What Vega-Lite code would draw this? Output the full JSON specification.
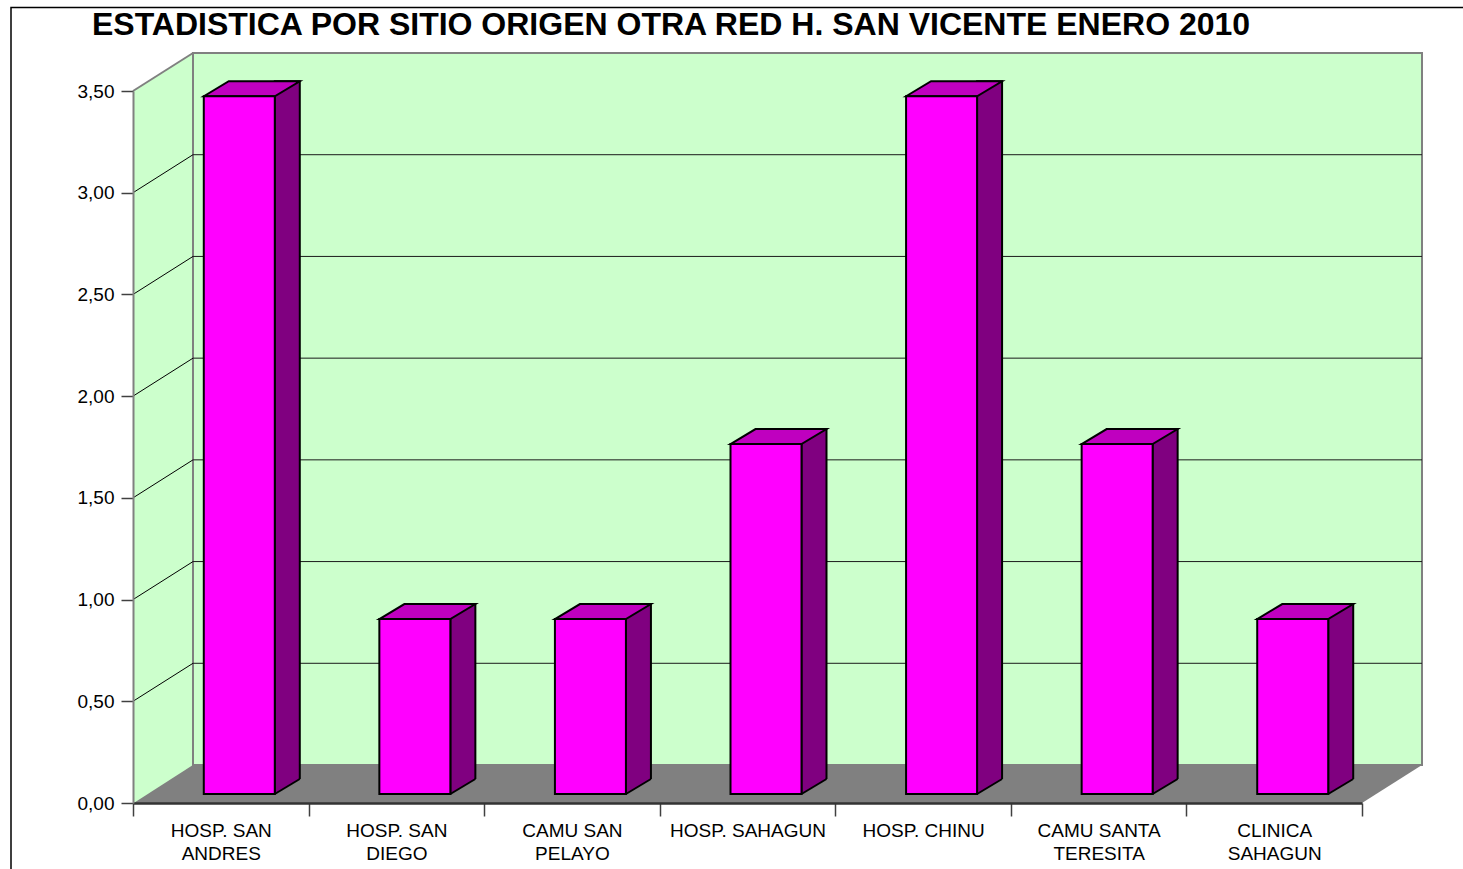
{
  "$schema": "https://vega.github.io/schema/vega-lite/v6.json",
  "width": 1229,
  "height": 712,
  "autosize": {"type": "none"},
  "padding": {"left": 133, "top": 91, "right": 101, "bottom": 66},
  "background": "white",
  "config": {"view": {"stroke": null}, "font": "Liberation Sans"},
  "title": {
    "text": "ESTADISTICA POR SITIO ORIGEN OTRA RED H. SAN VICENTE ENERO 2010",
    "frame": "group",
    "anchor": "start",
    "dx": -41,
    "offset": 0,
    "dy": 60,
    "baseline": "alphabetic",
    "font": "Liberation Sans",
    "fontSize": 32,
    "fontWeight": "bold",
    "color": "#000000"
  },
  "datasets": {
    "sitios": [
      {"sitio": "HOSP. SAN ANDRES", "valor": 3.43},
      {"sitio": "HOSP. SAN DIEGO", "valor": 0.86},
      {"sitio": "CAMU SAN PELAYO", "valor": 0.86},
      {"sitio": "HOSP. SAHAGUN", "valor": 1.72},
      {"sitio": "HOSP. CHINU", "valor": 3.43},
      {"sitio": "CAMU SANTA TERESITA", "valor": 1.72},
      {"sitio": "CLINICA SAHAGUN", "valor": 0.86}
    ],
    "lineas": [{"v": 0.5}, {"v": 1.0}, {"v": 1.5}, {"v": 2.0}, {"v": 2.5}, {"v": 3.0}],
    "one": [{"k": 1}]
  },
  "resolve": {"scale": {"x": "independent"}, "axis": {"x": "independent", "y": "independent"}},
  "layer": [
    {
      "data": {"name": "one"},
      "resolve": {"axis": {"x": "independent", "y": "independent"}},
      "layer": [
        {
          "mark": {"type": "rect", "fill": "#CCFFCC", "x2Offset": 60, "y2Offset": -38},
          "encoding": {
            "x": {"datum": 0, "type": "quantitative", "scale": {"domain": [0, 1], "nice": false, "zero": false}, "axis": null},
            "y": {"datum": 0, "type": "quantitative", "scale": {"domain": [0, 3.5], "nice": false, "zero": true}, "axis": null},
            "x2": {"datum": 1}, "y2": {"datum": 3.5}
          }
        },
        {
          "mark": {"type": "rect", "fill": "#808080", "x2Offset": 60, "y2Offset": -38},
          "encoding": {
            "x": {"datum": 0, "type": "quantitative", "axis": null},
            "y": {"datum": 0, "type": "quantitative", "axis": null},
            "x2": {"datum": 1}, "y2": {"datum": 0}
          }
        },
        {
          "mark": {"type": "point", "shape": "M0,0.5L0,-39L61.5,-39Z", "size": 4, "filled": true, "fill": "#CCFFCC", "strokeWidth": 0, "opacity": 1},
          "encoding": {
            "x": {"datum": 0, "type": "quantitative", "axis": null},
            "y": {"datum": 0, "type": "quantitative", "axis": null}
          }
        },
        {
          "mark": {"type": "point", "shape": "M0,0L60,-38L60,-41L-3,-41L-3,0Z", "size": 4, "filled": true, "fill": "#FFFFFF", "strokeWidth": 0, "opacity": 1},
          "encoding": {
            "x": {"datum": 0, "type": "quantitative", "axis": null},
            "y": {"datum": 3.5, "type": "quantitative", "axis": null}
          }
        },
        {
          "mark": {"type": "point", "shape": "M0,0L60,-38L63,-38L63,3L0,3Z", "size": 4, "filled": true, "fill": "#FFFFFF", "strokeWidth": 0, "opacity": 1},
          "encoding": {
            "x": {"datum": 1, "type": "quantitative", "axis": null},
            "y": {"datum": 0, "type": "quantitative", "axis": null}
          }
        },
        {
          "mark": {"type": "rect", "fill": null, "stroke": "#808080", "strokeWidth": 2, "xOffset": 60, "x2Offset": 60, "yOffset": -38, "y2Offset": -38},
          "encoding": {
            "x": {"datum": 0, "type": "quantitative", "axis": null},
            "y": {"datum": 0, "type": "quantitative", "axis": null},
            "x2": {"datum": 1}, "y2": {"datum": 3.5}
          }
        },
        {
          "data": {"name": "lineas"},
          "mark": {"type": "rule", "stroke": "#1a1a1a", "strokeWidth": 1, "xOffset": 60, "x2Offset": 60, "yOffset": -38},
          "encoding": {
            "x": {"datum": 0, "type": "quantitative", "axis": null},
            "x2": {"datum": 1},
            "y": {"field": "v", "type": "quantitative", "axis": null}
          }
        },
        {
          "data": {"name": "lineas"},
          "mark": {"type": "point", "shape": "M0,0L60,-38", "size": 4, "filled": false, "stroke": "#000000", "strokeWidth": 1, "opacity": 1},
          "encoding": {
            "x": {"datum": 0, "type": "quantitative", "axis": null},
            "y": {"field": "v", "type": "quantitative", "axis": null}
          }
        },
        {
          "mark": {"type": "point", "shape": "M0,0L60,-38", "size": 4, "filled": false, "stroke": "#808080", "strokeWidth": 2, "opacity": 1},
          "encoding": {
            "x": {"datum": 0, "type": "quantitative", "axis": null},
            "y": {"datum": 3.5, "type": "quantitative", "axis": null}
          }
        },
        {
          "mark": {"type": "rect", "fill": null, "stroke": "#000000", "strokeWidth": 1.5, "xOffset": -122, "x2Offset": 200, "yOffset": -83.5, "y2Offset": 200},
          "encoding": {
            "x": {"datum": 0, "type": "quantitative", "axis": null},
            "y": {"datum": 3.5, "type": "quantitative", "axis": null},
            "x2": {"datum": 1}, "y2": {"datum": 0}
          }
        }
      ]
    },
    {
      "data": {"name": "sitios"},
      "resolve": {"axis": {"x": "independent", "y": "independent"}},
      "encoding": {
        "x": {"field": "sitio", "type": "nominal", "sort": null, "scale": {"type": "band", "paddingInner": 0, "paddingOuter": 0}, "axis": null},
        "y": {"field": "valor", "type": "quantitative", "scale": {"domain": [0, 3.5], "nice": false, "zero": true}, "axis": null}
      },
      "layer": [
        {
          "mark": {"type": "bar", "width": 25, "xOffset": 66.5, "yOffset": -24, "y2Offset": -9, "fill": "#800080", "stroke": "#000000", "strokeWidth": 2},
          "encoding": {"y2": {"datum": 0}}
        },
        {
          "mark": {"type": "point", "shape": "M54,-9L79,-24L81,-24L81,-7.5L54,-7.5Z", "size": 4, "filled": true, "fill": "#808080", "strokeWidth": 0, "opacity": 1},
          "encoding": {"y": {"datum": 0, "type": "quantitative", "axis": null}}
        },
        {
          "mark": {"type": "point", "shape": "M54,-9L79,-24", "size": 4, "filled": false, "stroke": "#000000", "strokeWidth": 2, "opacity": 1},
          "encoding": {"y": {"datum": 0, "type": "quantitative", "axis": null}}
        },
        {
          "mark": {"type": "point", "shape": "M-17,-9L8,-24L79,-24L54,-9Z", "size": 4, "filled": true, "fill": "#BF00BF", "stroke": "#000000", "strokeWidth": 2, "opacity": 1}
        },
        {
          "mark": {"type": "bar", "width": 71, "xOffset": 18.5, "yOffset": -9, "y2Offset": -9, "fill": "#FF00FF", "stroke": "#000000", "strokeWidth": 2},
          "encoding": {
            "x": {
              "field": "sitio", "type": "nominal", "sort": null,
              "scale": {"type": "band", "paddingInner": 0, "paddingOuter": 0},
              "axis": {
                "title": null,
                "tickBand": "extent",
                "tickSize": 13,
                "tickColor": "#404040",
                "tickWidth": 1.5,
                "domainColor": "#333333",
                "domainWidth": 2.5,
                "labelFont": "Liberation Sans",
                "labelFontSize": 19,
                "labelColor": "#000000",
                "labelAngle": 0,
                "labelPadding": 5,
                "labelLineHeight": 23,
                "labelOverlap": false,
                "labelLimit": 300,
                "labelExpr": "length(datum.label) > 13 ? [substring(datum.label, 0, lastindexof(datum.label, ' ')), substring(datum.label, lastindexof(datum.label, ' ') + 1)] : datum.label",
                "zindex": 1
              }
            },
            "y": {
              "field": "valor", "type": "quantitative",
              "scale": {"domain": [0, 3.5], "nice": false, "zero": true},
              "axis": {
                "title": null,
                "values": [0, 0.5, 1, 1.5, 2, 2.5, 3, 3.5],
                "grid": false,
                "tickSize": 12,
                "tickColor": "#404040",
                "tickWidth": 1.5,
                "domainColor": "#808080",
                "domainWidth": 2,
                "labelFont": "Liberation Sans",
                "labelFontSize": 19,
                "labelColor": "#000000",
                "labelPadding": 7,
                "labelExpr": "replace(format(datum.value, '.2f'), '.', ',')",
                "zindex": 1
              }
            },
            "y2": {"datum": 0}
          }
        }
      ]
    }
  ]
}
